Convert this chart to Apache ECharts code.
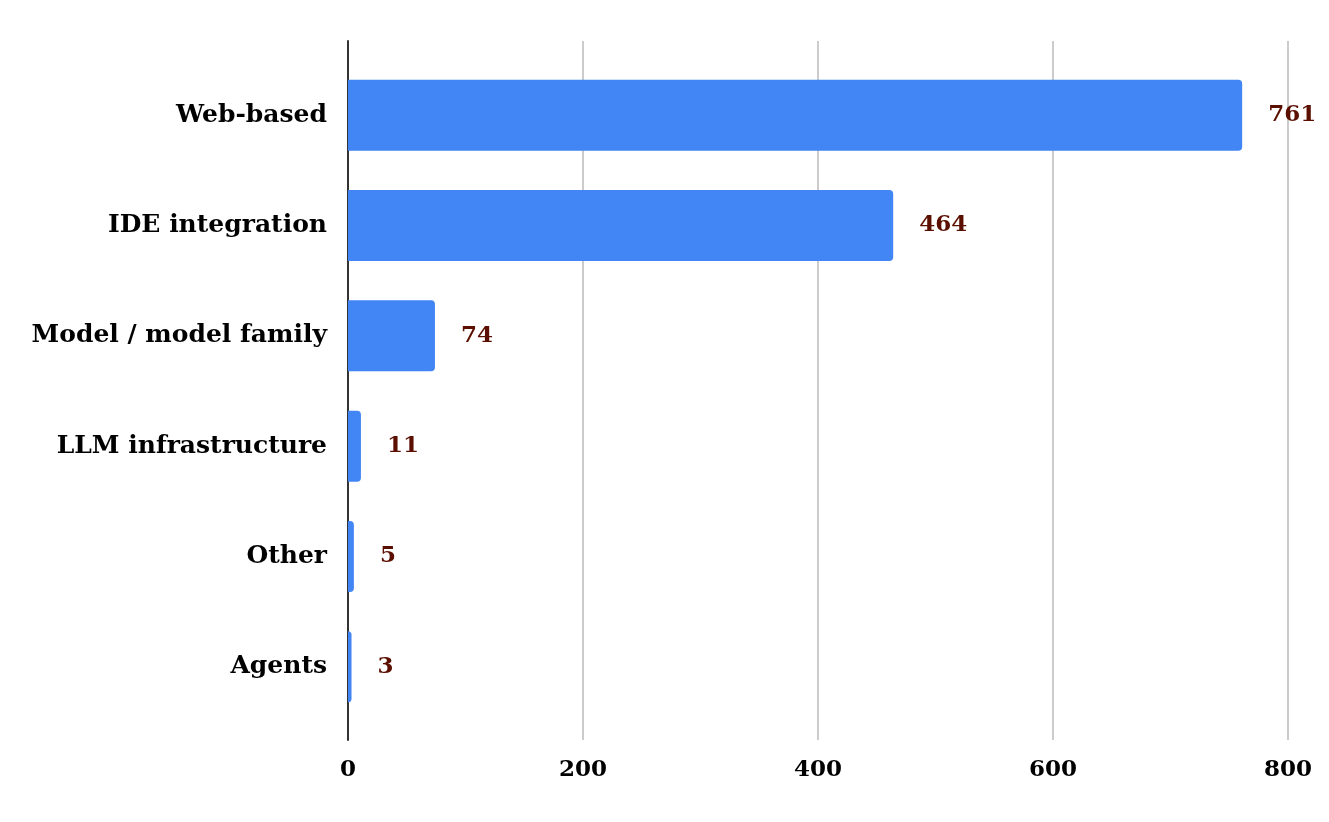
<!DOCTYPE html>
<html>
<head>
<meta charset="utf-8">
<script src="https://cdn.jsdelivr.net/npm/echarts@6/dist/echarts.min.js"></script>
<style>
html,body{margin:0;padding:0;background:#fff;}
#c{width:1329px;height:822px;}
</style>
</head>
<body>
<div id="c"></div>
<script>
const categories = ["Web-based", "IDE integration", "Model / model family", "LLM infrastructure", "Other", "Agents"];
const values = [761, 464, 74, 11, 5, 3];
const xTicks = [0, 200, 400, 600, 800];

const font = "'DejaVu Serif', 'Liberation Serif', serif";
const chart = echarts.init(document.getElementById('c'), null, {renderer: 'canvas'});
chart.setOption({
  backgroundColor: '#ffffff',
  animation: false,
  grid: [
    {left: 348, right: 41, top: 41, bottom: 82, containLabel: false},
    {left: 348, right: 41, top: 60, bottom: 100, containLabel: false}
  ],
  xAxis: [
    {
      gridIndex: 0, type: 'value', min: xTicks[0], max: xTicks[xTicks.length - 1], interval: 200,
      axisLine: {show: false}, axisTick: {show: false},
      splitLine: {show: true, lineStyle: {color: '#cccccc', width: 2}},
      axisLabel: {margin: 19, fontFamily: font, fontWeight: 'bold', fontSize: 23, color: '#000'}
    },
    {
      gridIndex: 1, type: 'value', min: xTicks[0], max: xTicks[xTicks.length - 1], interval: 200,
      show: false
    }
  ],
  yAxis: [
    {
      gridIndex: 0, type: 'category', data: categories, inverse: true,
      axisLine: {show: true, lineStyle: {color: '#333333', width: 2}},
      axisTick: {show: false}, axisLabel: {show: false}, splitLine: {show: false}
    },
    {
      gridIndex: 1, type: 'category', data: categories, inverse: true,
      axisLine: {show: false}, axisTick: {show: false}, splitLine: {show: false},
      axisLabel: {margin: 21, fontFamily: font, fontWeight: 'bold', fontSize: 25, color: '#000'}
    }
  ],
  series: [{
    type: 'bar',
    xAxisIndex: 1, yAxisIndex: 1,
    data: values,
    barWidth: 71,
    itemStyle: {color: '#4285f4', borderRadius: [0, 4, 4, 0]},
    label: {
      show: true, position: 'right', distance: 26,
      fontFamily: font, fontWeight: 'bold', fontSize: 23, color: '#5b0f00'
    }
  }]
});
</script>
</body>
</html>
